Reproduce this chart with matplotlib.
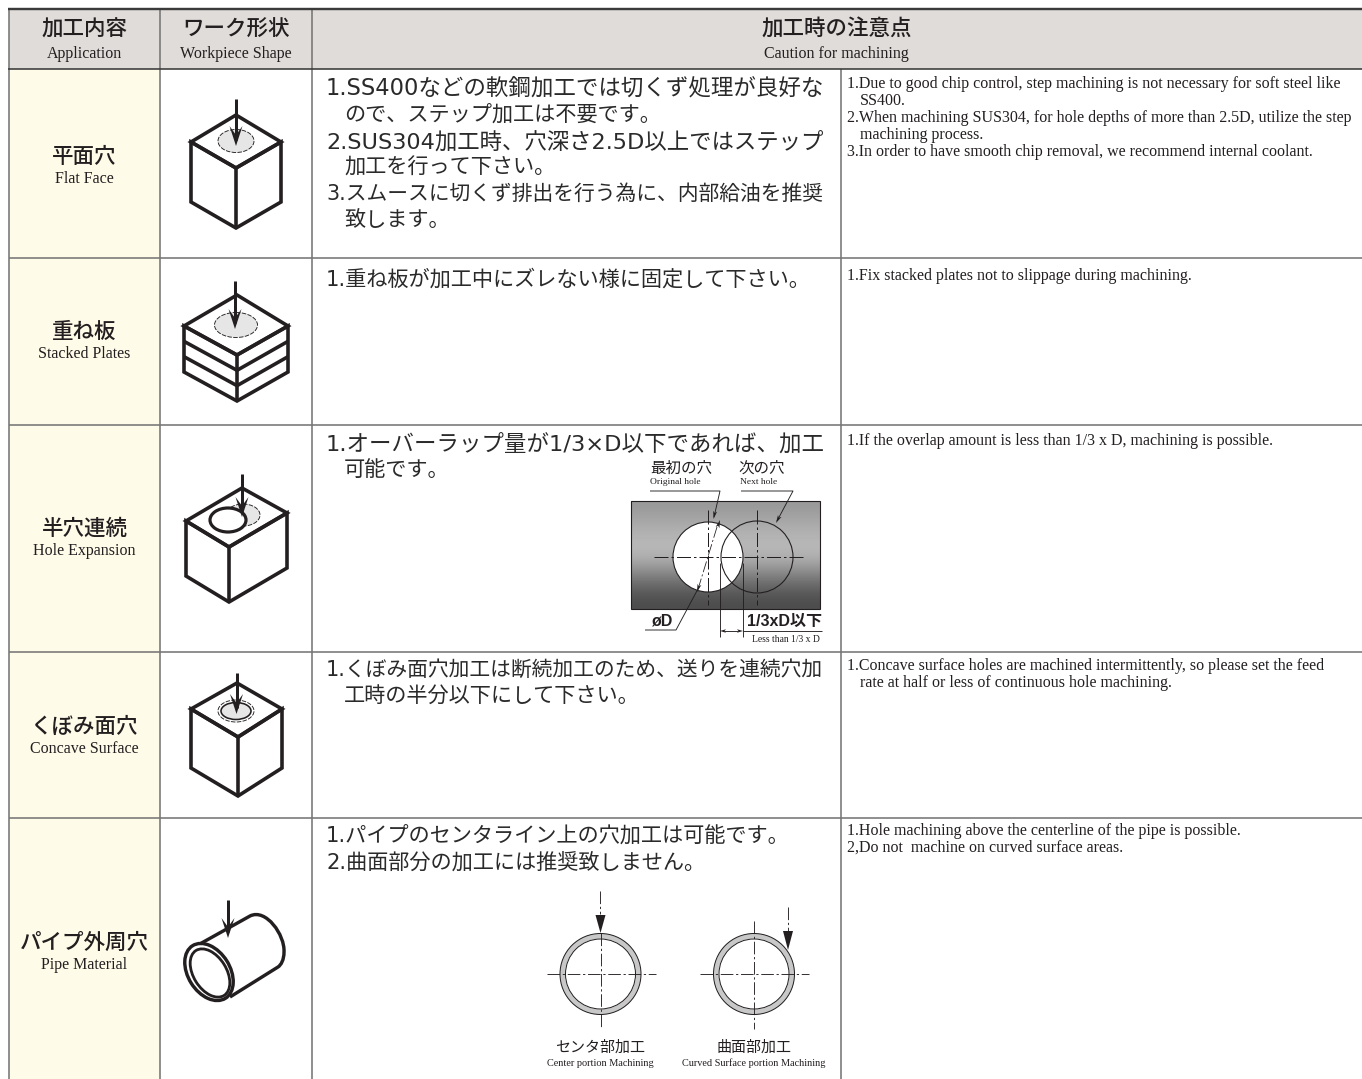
# Machining caution table, drawn on a pixel-sized canvas
import matplotlib
matplotlib.use('Agg')
import matplotlib.pyplot as plt
import numpy as np
from matplotlib.patches import Polygon, Ellipse, Circle, Rectangle, PathPatch
from matplotlib.path import Path

JP = ['Noto Sans CJK JP', 'DejaVu Sans']
JP_NOTE = ['DejaVu Sans', 'Noto Sans CJK JP']
EN = 'Liberation Serif'

# Table contents
header_jp = ['加工内容', 'ワーク形状', '加工時の注意点']
header_en = ['Application', 'Workpiece Shape', 'Caution for machining']
row_jp = ['平面穴', '重ね板', '半穴連続', 'くぼみ面穴', 'パイプ外周穴']
row_en = ['Flat Face', 'Stacked Plates', 'Hole Expansion', 'Concave Surface', 'Pipe Material']

notes_jp = [
    ['1.SS400などの軟鋼加工では切くず処理が良好な', ' ので、ステップ加工は不要です。',
     '2.SUS304加工時、穴深さ2.5D以上ではステップ', ' 加工を行って下さい。',
     '3.スムースに切くず排出を行う為に、内部給油を推奨', ' 致します。'],
    ['1.重ね板が加工中にズレない様に固定して下さい。'],
    ['1.オーバーラップ量が1/3×D以下であれば、加工', ' 可能です。'],
    ['1.くぼみ面穴加工は断続加工のため、送りを連続穴加', ' 工時の半分以下にして下さい。'],
    ['1.パイプのセンタライン上の穴加工は可能です。', '2.曲面部分の加工には推奨致しません。'],
]
notes_en = [
    ['1.Due to good chip control, step machining is not necessary for soft steel like', ' SS400.',
     '2.When machining SUS304, for hole depths of more than 2.5D, utilize the step', ' machining process.',
     '3.In order to have smooth chip removal, we recommend internal coolant.'],
    ['1.Fix stacked plates not to slippage during machining.'],
    ['1.If the overlap amount is less than 1/3 x D, machining is possible.'],
    ['1.Concave surface holes are machined intermittently, so please set the feed',
     ' rate at half or less of continuous hole machining.'],
    ['1.Hole machining above the centerline of the pipe is possible.',
     '2,Do not  machine on curved surface areas.'],
]

# Grid lines in pixels
col_x = [9, 160, 311.5, 841, 1362]
row_y = [9, 69, 258, 425, 652, 818, 1079]
row_mid = [157, 332, 529, 727, 943]
jp_first_y = [89, 279, 444, 670, 836]
en_first_y = [84, 276, 441, 666, 831]

header_bg = '#e0dcd9'
yellow = '#fffbe9'
grid = '#767676'
dark = '#231f20'
hole_gray = '#e6e6e6'

fig = plt.figure(figsize=(13.62, 10.79), dpi=100)
ax = fig.add_axes([0, 0, 1, 1])
ax.set_xlim(0, 1362)
ax.set_ylim(1079, 0)
ax.axis('off')

PX = 0.72  # one pixel in points


def label(x, y, s, size, fam=EN, **kw):
    kw.setdefault('ha', 'center')
    kw.setdefault('va', 'center')
    kw.setdefault('color', dark)
    return ax.text(x, y, s, fontsize=size * PX, family=fam, **kw)


def line(xs, ys, lw=1.0, color=dark, z=5, **kw):
    kw.setdefault('solid_capstyle', 'butt')
    ax.plot(xs, ys, lw=lw * PX, color=color, zorder=z, **kw)


def centre_line(xs, ys, lw=1.0, z=6):
    ax.plot(xs, ys, lw=lw * PX, color=dark, zorder=z, ls=(0, (14, 3, 2.5, 3)))


def head(tip, angle, length=18, width=11, z=7, notch=0.25, color=dark):
    # arrow head, angle is the way it points, in canvas degrees
    a = np.radians(angle)
    d = np.array([np.cos(a), np.sin(a)])
    n = np.array([-d[1], d[0]])
    t = np.array(tip, dtype=float)
    pts = [t, t - d * length + n * width / 2, t - d * length * (1 - notch),
           t - d * length - n * width / 2]
    ax.add_patch(Polygon(pts, closed=True, fc=color, ec='none', zorder=z))


def outline(pts, lw=3.6, closed=True, z=4, fc='none'):
    ax.add_patch(Polygon(pts, closed=closed, fc=fc, ec=dark, lw=lw * PX, joinstyle='miter', zorder=z))


def block(top, left, right, mid, drop, layers=1):
    # isometric block from its top face corners
    outline([top, right, mid, left], fc='white')
    lx, ly = left
    rx, ry = right
    mx, my = mid
    outline([left, (lx, ly + drop), (mx, my + drop), (rx, ry + drop), right, mid], fc='none')
    line([mx, mx], [my, my + drop], lw=3.6, z=4)
    for i in range(1, layers):
        k = drop * i / layers
        line([lx, mx, rx], [ly + k, my + k, ry + k], lw=3.6, z=4)


def drill(x, y0, y1):
    line([x, x], [y0, y1 - 6], lw=3.0, z=8)
    head((x, y1), 90, length=20, width=13, z=8, notch=0.45)


def hole(cx, cy, w, h, z=5):
    ax.add_patch(Ellipse((cx, cy), w, h, fc=hole_gray, ec=dark, lw=0.9 * PX, ls=(0, (5, 1.5)), zorder=z))


# Backgrounds
ax.add_patch(Rectangle((col_x[0], row_y[0]), col_x[-1] - col_x[0], row_y[1] - row_y[0], fc=header_bg, ec='none', zorder=1))
ax.add_patch(Rectangle((col_x[0], row_y[1]), col_x[1] - col_x[0], row_y[-1] - row_y[1], fc=yellow, ec='none', zorder=1))

# Grid, the last column rule only starts below the header
for x in col_x[:3]:
    line([x, x], [row_y[0], row_y[-1]], lw=1.6, color=grid, z=2)
line([col_x[3], col_x[3]], [row_y[1], row_y[-1]], lw=1.6, color=grid, z=2)
for y in row_y[2:-1]:
    line([col_x[0], col_x[-1]], [y, y], lw=1.6, color=grid, z=2)
line([col_x[0] - 1, col_x[-1]], [row_y[0], row_y[0]], lw=2.4, color='#3a3a3a', z=3)
line([col_x[0] - 1, col_x[-1]], [row_y[1], row_y[1]], lw=1.6, color='#3a3a3a', z=3)

# Header
hx = [(col_x[0] + col_x[1]) / 2, (col_x[1] + col_x[2]) / 2, (col_x[2] + col_x[-1]) / 2]
for x, a, b in zip(hx, header_jp, header_en):
    label(x, 30, a, 21.5, fam=JP, weight='medium')
    label(x, 54, b, 16)

# Row names
for y, a, b in zip(row_mid, row_jp, row_en):
    label(84.5, y, a, 21.5, fam=JP, weight='medium')
    label(84.5, y + 22, b, 16)

# Notes, a line that wraps onto an indented one runs to the same right edge
jp_right = 822
fig.canvas.draw()
rend = fig.canvas.get_renderer()
for y0, lines in zip(jp_first_y, notes_jp):
    for i, s in enumerate(lines):
        x = 344 if s.startswith(' ') else 326
        t = label(x, y0 + i * 26.3, s.strip(), 21.2, fam=JP_NOTE, ha='left', color='#2a2a2a')
        if i + 1 < len(lines) and lines[i + 1].startswith(' '):
            w = t.get_window_extent(rend).width
            t.set_fontsize(t.get_fontsize() * (jp_right - x) / w)
for y0, lines in zip(en_first_y, notes_en):
    for i, s in enumerate(lines):
        x = 860 if s.startswith(' ') else 847
        label(x, y0 + i * 17, s.strip(), 16, ha='left')

# Workpiece shapes
block((236, 115), (191, 142), (281, 142), (236, 168), 60)
hole(236, 141, 36, 23)
drill(236, 99, 146)

block((237, 295), (184, 326), (288, 326), (237, 355), 46, layers=3)
hole(236, 325, 43, 25)
drill(235, 281, 329)

block((242, 488), (186, 521), (287, 513), (229, 547), 55)
hole(243, 515, 34, 22)
ax.add_patch(Ellipse((228, 520), 36, 24, fc='white', ec=dark, lw=3.2 * PX, zorder=6))
drill(242, 474, 517)

block((237, 683), (191, 709), (282, 709), (238, 737), 59)
ax.add_patch(Ellipse((236, 711), 36, 22, fc='none', ec=dark, lw=0.9 * PX, ls=(0, (5, 1.5)), zorder=5))
ax.add_patch(Ellipse((236, 711), 30, 17, fc=hole_gray, ec=dark, lw=1.6 * PX, zorder=5))
drill(236.5, 673, 714)

# Pipe
verts = [(198, 945), (250, 916), (266, 908), (285, 935), (284, 952), (284, 960), (281, 965), (278, 967), (230, 997)]
codes = [Path.MOVETO, Path.LINETO, Path.CURVE4, Path.CURVE4, Path.CURVE4, Path.CURVE4, Path.CURVE4, Path.CURVE4, Path.LINETO]
ax.add_patch(PathPatch(Path(verts, codes), fc='white', ec=dark, lw=3.4 * PX, zorder=4))
ax.add_patch(Ellipse((209, 972), 62, 42, angle=58, fc='white', ec=dark, lw=3.4 * PX, zorder=5))
ax.add_patch(Ellipse((210, 973), 53, 33, angle=58, fc='white', ec=dark, lw=2.8 * PX, zorder=5))
drill(228, 900, 938)

# Overlap detail
grad = np.array([0.60, 0.64, 0.68, 0.71, 0.72, 0.66, 0.55, 0.44, 0.35, 0.30]).reshape(-1, 1)
ax.imshow(grad, extent=(631, 820, 609, 501), cmap='gray', vmin=0, vmax=1, aspect='auto', zorder=3, interpolation='bicubic')
ax.set_xlim(0, 1362)
ax.set_ylim(1079, 0)
ax.add_patch(Rectangle((631, 501), 189, 108, fc='none', ec=dark, lw=1.1 * PX, zorder=4))
ax.add_patch(Circle((708, 557), 35, fc='white', ec=dark, lw=1.1 * PX, zorder=4))
ax.add_patch(Circle((757, 557), 36, fc='none', ec=dark, lw=1.1 * PX, zorder=5))
centre_line([654, 806], [557, 557])
centre_line([708, 708], [510, 605])
centre_line([757, 757], [510, 605])
line([650, 720, 714], [491, 491, 517], lw=0.9)
head((713.5, 519), 102, length=8, width=4)
line([741, 793, 777], [491, 491, 521], lw=0.9)
head((776, 523), 118, length=8, width=4)
centre_line([717, 699], [527, 586], lw=0.8)
head((720, 520), -72, length=8, width=4)
head((697, 592), 108, length=8, width=4)
line([645, 676, 699], [630, 630, 587], lw=0.9)
line([719.5, 719.5], [563, 637], lw=0.9)
line([743, 743], [563, 637], lw=0.9)
line([724, 738], [631, 631], lw=0.9)
head((720, 631), 180, length=6, width=3.5)
head((743, 631), 0, length=6, width=3.5)
line([743, 822], [631, 631], lw=0.9)

label(681, 468, '最初の穴', 15.5, fam=JP)
label(675, 482, 'Original hole', 9.5)
label(762, 468, '次の穴', 15.5, fam=JP)
label(759, 482, 'Next hole', 9.5)
label(663, 621, 'øD', 16, fam='Liberation Sans', weight='bold')
label(785, 621, '1/3xD以下', 16, fam=['Liberation Sans', 'Noto Sans CJK JP'], weight='bold')
label(786, 639, 'Less than 1/3 x D', 9.6)

# Pipe sections
for cx in [600.5, 754]:
    ax.add_patch(Circle((cx, 974), 38, fc='none', ec='#c8c8c8', lw=5 * PX, zorder=4))
    ax.add_patch(Circle((cx, 974), 40.5, fc='none', ec=dark, lw=1.0 * PX, zorder=5))
    ax.add_patch(Circle((cx, 974), 35, fc='none', ec=dark, lw=1.0 * PX, zorder=5))
    centre_line([cx - 54, cx + 55], [974, 974], lw=0.9)
centre_line([600.5, 600.5], [933, 1029], lw=0.9)
centre_line([754, 754], [921, 1029], lw=0.9)
centre_line([600, 600], [891, 914], lw=0.9)
head((600.5, 933), 90, length=18, width=10, notch=0)
centre_line([788, 788], [907, 931], lw=0.9)
head((788, 950), 90, length=19, width=10, notch=0)

label(600.5, 1048, 'センタ部加工', 15, fam=JP)
label(600.5, 1063, 'Center portion Machining', 10.2)
label(754, 1048, '曲面部加工', 15, fam=JP)
label(754, 1063, 'Curved Surface portion Machining', 10.2)

fig.savefig('out.png', dpi=100, facecolor='white')
